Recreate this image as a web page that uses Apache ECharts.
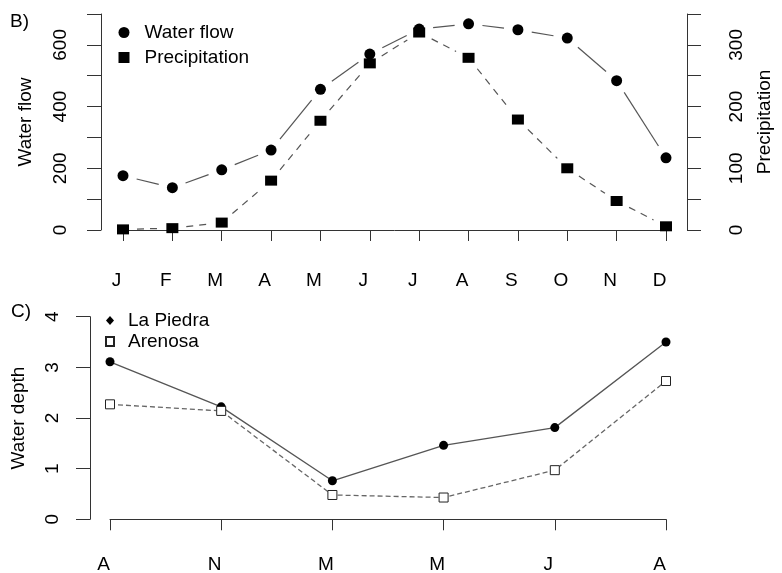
<!DOCTYPE html>
<html>
<head>
<meta charset="utf-8">
<title>Water flow, precipitation and water depth</title>
<script src="https://cdn.jsdelivr.net/npm/echarts@6/dist/echarts.min.js"></script>
<style>
  html, body { margin: 0; padding: 0; background: #fff; }
  #chart { width: 782px; height: 573px; }
</style>
</head>
<body>
<div id="chart"></div>
<script>
// panel B) monthly means
var months = ['J', 'F', 'M', 'A', 'M', 'J', 'J', 'A', 'S', 'O', 'N', 'D']
var waterFlow = [176, 137, 195, 259, 456, 570, 651, 668, 649, 622, 484, 234]
var precipitation = [1, 3, 12, 80, 177, 270, 320, 279, 179, 100, 47, 6]

// panel C) water depth at each sampling
var samplings = ['A', 'N', 'M', 'M', 'J', 'A']
var laPiedra = [3.11, 2.22, 0.76, 1.46, 1.81, 3.50]
var arenosa = [2.27, 2.14, 0.48, 0.43, 0.97, 2.73]

var font = 'Liberation Sans, Arial, sans-serif'
var fontSize = 19
var axisColor = '#333'

// pairs of neighbouring values, one item per segment
function segments(values) {
  return values.slice(0, -1).map(function (v, i) { return [i, v, values[i + 1]] })
}

// lines like R's type="b": each segment stops short of the points
function gappedLine(gap, dash) {
  return function (params, api) {
    var a = api.coord([api.value(0), api.value(1)])
    var b = api.coord([api.value(0) + 1, api.value(2)])
    var dx = b[0] - a[0]
    var dy = b[1] - a[1]
    var len = Math.sqrt(dx * dx + dy * dy)
    if (len <= gap * 2) return null
    var ux = dx / len
    var uy = dy / len
    return {
      type: 'line',
      shape: { x1: a[0] + ux * gap, y1: a[1] + uy * gap, x2: b[0] - ux * gap, y2: b[1] - uy * gap },
      style: { stroke: '#555', lineWidth: 1.2, lineDash: dash }
    }
  }
}

function yAxis(opts) {
  var every = opts.labelEvery
  return {
    type: 'value',
    gridIndex: opts.grid,
    position: opts.position,
    offset: opts.offset,
    min: opts.min,
    max: opts.max,
    interval: opts.interval,
    name: opts.name,
    nameLocation: 'middle',
    nameGap: opts.nameGap,
    nameTextStyle: { fontSize: fontSize, color: '#000', fontFamily: font },
    axisLine: { show: true, lineStyle: { color: axisColor, width: 1 } },
    axisTick: { show: true, length: 14, lineStyle: { color: axisColor, width: 1 } },
    axisLabel: {
      rotate: 90,
      margin: opts.margin,
      fontSize: fontSize,
      color: '#000',
      fontFamily: font,
      formatter: function (v) { return v % every === 0 ? String(v) : '' }
    },
    splitLine: { show: false }
  }
}

function xAxis(opts) {
  return {
    type: 'category',
    gridIndex: opts.grid,
    data: opts.data,
    boundaryGap: false,
    offset: opts.offset,
    axisLine: { show: true, lineStyle: { color: axisColor, width: 1 } },
    axisTick: { show: true, interval: 0, length: 11, lineStyle: { color: axisColor, width: 1 } },
    axisLabel: {
      interval: 0,
      margin: opts.margin,
      fontSize: fontSize,
      color: '#000',
      fontFamily: font,
      padding: [0, 13, 0, 0]
    },
    splitLine: { show: false }
  }
}

var chart = echarts.init(document.getElementById('chart'))

var option = {
  animation: false,
  backgroundColor: '#fff',
  textStyle: { fontFamily: font },
  grid: [
    { left: 123, right: 116, top: 14, height: 216, outerBoundsMode: 'none' },
    { left: 110, right: 116, top: 316.7, height: 202.6, outerBoundsMode: 'none' }
  ],
  xAxis: [
    xAxis({ grid: 0, data: months, offset: 10, margin: 31 }),
    xAxis({ grid: 1, data: samplings, offset: 8.4, margin: 28 })
  ],
  yAxis: [
    yAxis({ grid: 0, position: 'left', offset: 22, min: 0, max: 700, interval: 100, labelEvery: 200,
      name: 'Water flow', nameGap: 66, margin: 31 }),
    yAxis({ grid: 0, position: 'right', offset: 21, min: 0, max: 350, interval: 50, labelEvery: 100,
      name: 'Precipitation', nameGap: 68, margin: 40 }),
    yAxis({ grid: 1, position: 'left', offset: 20, min: 0, max: 4, interval: 1, labelEvery: 1,
      name: 'Water depth', nameGap: 62, margin: 28 })
  ],
  legend: [
    {
      data: [{ name: 'Water flow', icon: 'circle' }, { name: 'Precipitation', icon: 'rect' }],
      orient: 'vertical',
      left: 118.5,
      top: 23,
      padding: 0,
      itemWidth: 11,
      itemHeight: 11,
      itemGap: 6,
      selectedMode: false,
      textStyle: { fontSize: fontSize, color: '#000', fontFamily: font, padding: [0, 0, 0, 10] }
    },
    {
      data: [{ name: 'La Piedra', icon: 'diamond' }, { name: 'Arenosa', icon: 'rect' }],
      orient: 'vertical',
      left: 105,
      top: 311,
      padding: 0,
      itemWidth: 8,
      itemHeight: 9,
      itemGap: 2,
      selectedMode: false,
      textStyle: { fontSize: fontSize, color: '#000', fontFamily: font, padding: [0, 0, 0, 9] }
    }
  ],
  graphic: [
    { type: 'text', left: 10, top: 12, style: { text: 'B)', fill: '#000', font: fontSize + 'px ' + font } },
    { type: 'text', left: 11, top: 302, style: { text: 'C)', fill: '#000', font: fontSize + 'px ' + font } }
  ],
  series: [
    {
      name: 'Water flow line',
      type: 'custom',
      xAxisIndex: 0,
      yAxisIndex: 0,
      z: 1,
      silent: true,
      encode: { x: 0, y: [1, 2] },
      data: segments(waterFlow),
      renderItem: gappedLine(14, null)
    },
    {
      name: 'Precipitation line',
      type: 'custom',
      xAxisIndex: 0,
      yAxisIndex: 1,
      z: 1,
      silent: true,
      encode: { x: 0, y: [1, 2] },
      data: segments(precipitation),
      renderItem: gappedLine(14, [7, 6])
    },
    {
      name: 'Water flow',
      type: 'scatter',
      xAxisIndex: 0,
      yAxisIndex: 0,
      symbol: 'circle',
      symbolSize: 11,
      itemStyle: { color: '#000', opacity: 1 },
      data: waterFlow
    },
    {
      name: 'Precipitation',
      type: 'scatter',
      xAxisIndex: 0,
      yAxisIndex: 1,
      symbol: 'rect',
      symbolSize: [12, 10],
      itemStyle: { color: '#000', opacity: 1 },
      data: precipitation
    },
    {
      name: 'La Piedra',
      type: 'line',
      xAxisIndex: 1,
      yAxisIndex: 2,
      symbol: 'circle',
      symbolSize: 9,
      showAllSymbol: true,
      itemStyle: { color: '#000' },
      lineStyle: { color: '#555', width: 1.3 },
      data: laPiedra
    },
    {
      name: 'Arenosa',
      type: 'line',
      xAxisIndex: 1,
      yAxisIndex: 2,
      symbol: 'rect',
      symbolSize: 9,
      showAllSymbol: true,
      itemStyle: { color: '#fff', borderColor: '#222', borderWidth: 1 },
      lineStyle: { color: '#666', width: 1.3, type: [5, 3] },
      data: arenosa
    }
  ]
}

chart.setOption(option)
</script>
</body>
</html>
